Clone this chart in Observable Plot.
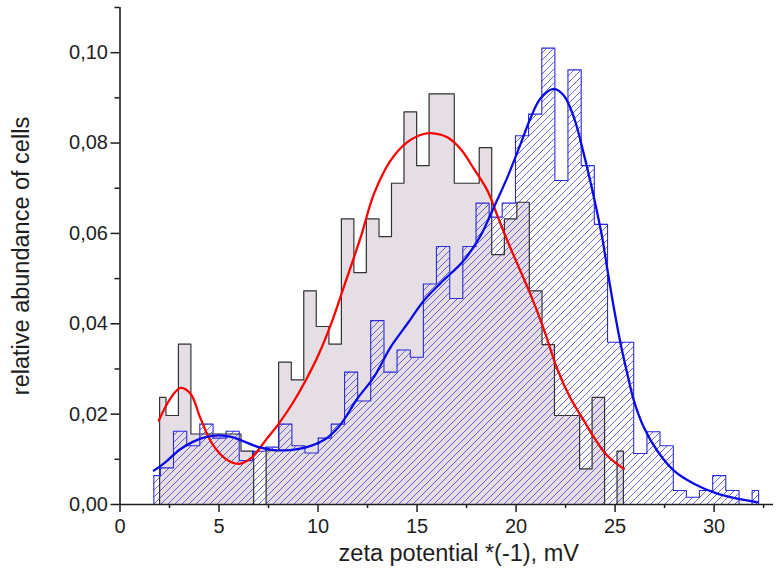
<!DOCTYPE html>
<html>
<head>
<meta charset="utf-8">
<script src="https://cdn.jsdelivr.net/npm/d3@7"></script>
<script src="https://cdn.jsdelivr.net/npm/@observablehq/plot@0.6"></script>
<style>
  html, body { margin: 0; padding: 0; background: #fff; }
  #chart { width: 778px; height: 580px; }
</style>
</head>
<body>
<div id="chart"></div>
<script>
// ---- data ----
// histogram 1 (black outline, mauve fill): bin edges (mV) and relative abundance
const blackEdges = [2.00, 2.32, 2.95, 3.58, 4.22, 4.85, 5.48, 6.11, 6.75, 7.38, 8.01, 8.65, 9.28, 9.91,
  10.55, 11.18, 11.81, 12.44, 13.08, 13.71, 14.34, 14.98, 15.61, 16.24, 16.88, 17.51, 18.14, 18.77,
  19.41, 20.04, 20.67, 21.31, 21.94, 22.57, 23.21, 23.84, 24.47, 25.10, 25.42];
const blackValues = [0.0237, 0.0197, 0.0355, 0.0156, 0.0156, 0.0156, 0.0156, 0.0118, 0, 0.0119,
  0.0315, 0.0276, 0.0473, 0.0394, 0.0355, 0.0632, 0.0513, 0.0632, 0.0593, 0.0711, 0.0869, 0.0750,
  0.0909, 0.0909, 0.0711, 0.0711, 0.0790, 0.0553, 0.0632, 0.0669, 0.0473, 0.0354, 0.0197, 0.0197,
  0.0079, 0.0237, 0, 0.0118];

// histogram 2 (blue outline, hatched)
const blueEdges = [1.71, 2.04, 2.70, 3.37, 4.03, 4.70, 5.36, 6.02, 6.69, 7.35, 8.02, 8.68, 9.34, 10.01,
  10.67, 11.34, 12.00, 12.66, 13.33, 13.99, 14.66, 15.32, 15.98, 16.65, 17.31, 17.98, 18.64, 19.30,
  19.97, 20.63, 21.30, 21.96, 22.62, 23.29, 23.95, 24.62, 25.28, 25.94, 26.61, 27.27, 27.94, 28.60,
  29.26, 29.93, 30.59, 31.26, 31.92, 32.25];
const blueValues = [0.0064, 0.0081, 0.0162, 0.0130, 0.0178, 0.0147, 0.0162, 0.0097, 0.0118, 0.0127,
  0.0178, 0.0130, 0.0114, 0.0147, 0.0178, 0.0293, 0.0229, 0.0407, 0.0293, 0.0342, 0.0326, 0.0488,
  0.0571, 0.0456, 0.0571, 0.0667, 0.0636, 0.0667, 0.0816, 0.0864, 0.1010, 0.0717, 0.0962, 0.0750,
  0.0620, 0.0359, 0.0359, 0.0113, 0.0161, 0.0130, 0.0031, 0.0016, 0.0031, 0.0064, 0.0031, 0,
  0.0031];

// fitted curves
const redX = [1.96, 2.55, 3.06, 3.56, 4.07, 4.66, 5.33, 6.00, 6.68, 7.35, 8.02, 8.70, 9.37, 10.04,
  10.72, 11.30, 12.15, 12.82, 13.66, 14.51, 15.34, 15.93, 16.53, 17.20, 17.87, 18.55, 19.05, 19.56,
  20.06, 20.73, 21.40, 22.08, 22.75, 23.42, 23.93, 24.61, 25.44];
const redY = [0.0186, 0.0235, 0.0258, 0.0245, 0.0190, 0.0134, 0.0101, 0.0090, 0.0105, 0.0142,
  0.0179, 0.0223, 0.0274, 0.0333, 0.0407, 0.0481, 0.0591, 0.0687, 0.0761, 0.0802, 0.0820, 0.0821,
  0.0813, 0.0787, 0.0743, 0.0695, 0.0640, 0.0584, 0.0533, 0.0465, 0.0388, 0.0300, 0.0235, 0.0186,
  0.0149, 0.0108, 0.0079];

const blueX = [1.71, 2.30, 2.97, 3.65, 4.32, 4.99, 5.67, 6.34, 7.01, 7.69, 8.36, 9.03, 9.71, 10.38,
  11.05, 11.39, 11.98, 12.82, 13.66, 14.51, 15.34, 16.19, 17.36, 18.21, 18.88, 19.56, 20.23, 20.73,
  21.24, 21.91, 22.41, 22.92, 23.42, 23.93, 24.35, 24.61, 24.94, 25.28, 25.62, 25.95, 26.45, 27.13,
  27.97, 28.98, 30.16, 31.17, 32.18];
const blueY = [0.0075, 0.0094, 0.0120, 0.0138, 0.0149, 0.0153, 0.0149, 0.0138, 0.0127, 0.0121,
  0.0120, 0.0123, 0.0131, 0.0145, 0.0172, 0.0193, 0.0234, 0.0282, 0.0348, 0.0400, 0.0451, 0.0490,
  0.0540, 0.0595, 0.0658, 0.0724, 0.0798, 0.0855, 0.0899, 0.0920, 0.0905, 0.0857, 0.0776, 0.0680,
  0.0591, 0.0520, 0.0435, 0.0356, 0.0289, 0.0230, 0.0171, 0.0119, 0.0075, 0.0046, 0.0024, 0.0013,
  0.0005];

// axis ticks
const xTicks = [0, 5, 10, 15, 20, 25, 30];
const xMinorTicks = [2.5, 7.5, 12.5, 17.5, 22.5, 27.5, 32.5];
const yTicks = [0, 0.02, 0.04, 0.06, 0.08, 0.10];
const yMinorTicks = [0.01, 0.03, 0.05, 0.07, 0.09, 0.11];

const xTitle = "zeta potential *(-1), mV";
const yTitle = "relative abundance of cells";

// ---- build step tables ----
function steps(edges, values) {
  return edges.map((x, i) => ({x, y: values[Math.min(i, values.length - 1)]}));
}
function outline(edges, values) {
  return [{x: edges[0], y: 0}, ...steps(edges, values), {x: edges[edges.length - 1], y: 0}];
}
const blackStep = steps(blackEdges, blackValues);
const blueStep = steps(blueEdges, blueValues);
const redCurve = redX.map((x, i) => ({x, y: redY[i]}));
const blueCurve = blueX.map((x, i) => ({x, y: blueY[i]}));

const fmt = d => d.toFixed(2).replace(".", ",");
const ink = "#1e1e1e";

const chart = Plot.plot({
  width: 778,
  height: 580,
  marginLeft: 119.5,
  marginRight: 5,
  marginTop: 7,
  marginBottom: 76,
  x: {domain: [0, 33]},
  y: {domain: [0, 0.11]},
  style: {fontFamily: "'Liberation Sans', Arial, sans-serif", fontSize: "20px", color: ink, background: "#fff"},
  marks: [
    Plot.areaY(blackStep, {x: "x", y: "y", curve: "step-after", fill: "#e6dee5"}),
    Plot.areaY(blueStep, {x: "x", y: "y", curve: "step-after", fill: "url(#hatch)"}),
    Plot.line(outline(blackEdges, blackValues), {x: "x", y: "y", curve: "step-after", stroke: "#333", strokeWidth: 1.2}),
    Plot.line(outline(blueEdges, blueValues), {x: "x", y: "y", curve: "step-after", stroke: "#2b2be0", strokeWidth: 1.1}),
    Plot.line(redCurve, {x: "x", y: "y", curve: "catmull-rom", stroke: "#ff0000", strokeWidth: 2.3}),
    Plot.line(blueCurve, {x: "x", y: "y", curve: "catmull-rom", stroke: "#0a0ae6", strokeWidth: 2.3}),
    Plot.ruleY([0], {stroke: ink, strokeWidth: 1.6}),
    Plot.ruleX([0], {stroke: ink, strokeWidth: 1.6}),
    Plot.axisX({ticks: xTicks, tickSize: 8, tickPadding: 6, tickFormat: d => String(d), fontSize: 20, strokeWidth: 1.5, label: null}),
    Plot.axisX({ticks: xMinorTicks, tickSize: 4, text: null, strokeWidth: 1.5, label: null}),
    Plot.axisY({ticks: yTicks, tickSize: 9, tickPadding: 3, tickFormat: fmt, fontSize: 20, strokeWidth: 1.5, label: null}),
    Plot.axisY({ticks: yMinorTicks, tickSize: 5, text: null, strokeWidth: 1.5, label: null}),
    Plot.text([xTitle], {frameAnchor: "bottom", dx: 12, dy: 49, lineAnchor: "middle", textAnchor: "middle", fontSize: 23.5, fill: ink}),
    Plot.text([yTitle], {frameAnchor: "left", dx: -99, rotate: -90, lineAnchor: "middle", textAnchor: "middle", fontSize: 23.5, fill: ink})
  ]
});

// hatch pattern for the second histogram
const ns = "http://www.w3.org/2000/svg";
const defs = document.createElementNS(ns, "defs");
defs.innerHTML = `<pattern id="hatch" patternUnits="userSpaceOnUse" width="7" height="7">
  <path d="M-1,1 l2,-2 M0,7 l7,-7 M6,8 l2,-2" stroke="#4040d6" stroke-width="0.8" fill="none"/>
</pattern>`;
chart.insertBefore(defs, chart.firstChild);

document.getElementById("chart").appendChild(chart);
</script>
</body>
</html>
